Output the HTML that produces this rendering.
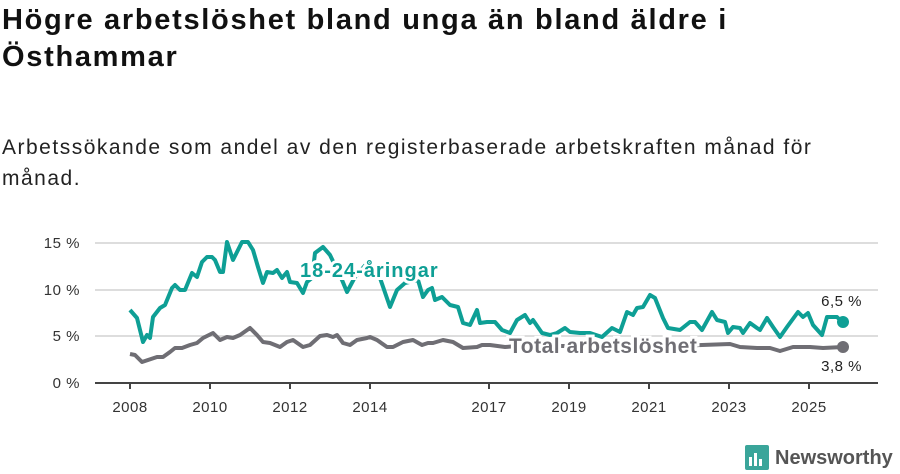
<!DOCTYPE html>
<html><head><meta charset="utf-8"><style>
body{margin:0;background:#fff;width:900px;height:474px;overflow:hidden;font-family:"Liberation Sans",sans-serif;}
h1{position:absolute;left:2px;top:2px;margin:0;font-size:29px;line-height:37px;font-weight:bold;color:#111;letter-spacing:1.7px;}
.sub{position:absolute;left:2px;top:132px;font-size:21px;line-height:31px;color:#222;letter-spacing:1.5px;}
</style></head><body>
<h1>Högre arbetslöshet bland unga än bland äldre i<br>Östhammar</h1>
<div class="sub">Arbetssökande som andel av den registerbaserade arbetskraften månad för<br>månad.</div>
<svg width="900" height="474" style="position:absolute;left:0;top:0" font-family="Liberation Sans, sans-serif">
<g stroke="#ddd" stroke-width="2">
<line x1="95" y1="243" x2="878" y2="243"/><line x1="95" y1="290" x2="878" y2="290"/><line x1="95" y1="336" x2="878" y2="336"/>
</g>
<line x1="95" y1="383" x2="878" y2="383" stroke="#444" stroke-width="2"/>
<g stroke="#444" stroke-width="2">
<line x1="130" y1="383" x2="130" y2="389"/><line x1="210" y1="383" x2="210" y2="389"/><line x1="290" y1="383" x2="290" y2="389"/><line x1="370" y1="383" x2="370" y2="389"/><line x1="489" y1="383" x2="489" y2="389"/><line x1="569" y1="383" x2="569" y2="389"/><line x1="649" y1="383" x2="649" y2="389"/><line x1="729" y1="383" x2="729" y2="389"/><line x1="809" y1="383" x2="809" y2="389"/>
</g>
<g font-size="15" fill="#333" text-anchor="end" letter-spacing="0.5">
<text x="80" y="248">15 %</text><text x="80" y="295">10 %</text><text x="80" y="341">5 %</text><text x="80" y="388">0 %</text>
</g>
<g font-size="15" fill="#333" text-anchor="middle" letter-spacing="0.5">
<text x="130" y="412">2008</text><text x="210" y="412">2010</text><text x="290" y="412">2012</text><text x="370" y="412">2014</text><text x="489" y="412">2017</text><text x="569" y="412">2019</text><text x="649" y="412">2021</text><text x="729" y="412">2023</text><text x="809" y="412">2025</text>
</g>
<polyline fill="none" stroke="#6f6e74" stroke-width="4" stroke-linejoin="round" points="130,354 135,355 142,362 148,360 157,357 163,357 170,352 175,348 182,348 190,345 197,343 203,338 213,333 220,340 227,337 233,338 240,335 250,328 257,335 263,342 270,343 280,347 287,342 293,340 303,347 310,345 320,336 327,335 333,337 337,335 343,343 350,345 357,340 367,338 370,337 377,340 387,347 393,347 403,342 413,340 422,345 428,343 433,343 443,340 453,342 463,348 477,347 482,345 490,345 505,347 520,346 560,346 600,346 640,345 680,346 702,345 730,344 740,347 757,348 770,348 780,351 793,347 810,347 823,348 843,347"/>
<polyline fill="none" stroke="#0e9f95" stroke-width="4" stroke-linejoin="round" points="130,310 137,318 143,342 147,335 150,338 153,317 160,308 165,305 172,288 175,285 180,290 185,290 192,273 197,277 202,262 207,257 212,257 215,260 220,272 223,272 227,242 233,260 242,242 248,242 253,250 258,267 263,283 267,272 273,273 277,270 282,278 287,272 290,282 297,283 303,293 307,282 312,278 315,253 323,247 330,255 342,280 347,292 355,277 368,262 380,278 390,307 397,290 405,283 418,280 423,297 428,290 432,288 435,300 442,297 450,305 458,307 463,323 470,325 477,310 480,323 487,322 495,322 502,330 510,333 517,320 525,315 530,323 533,320 542,333 550,335 557,333 565,328 570,332 580,333 590,333 602,337 612,328 620,332 627,312 633,315 637,308 643,307 650,295 655,298 663,318 668,328 680,330 690,322 695,322 702,330 712,312 717,320 725,322 728,333 733,327 740,328 743,333 750,323 757,328 760,330 767,318 773,327 780,337 787,327 798,312 803,317 808,313 813,325 822,335 827,317 837,317 843,323"/>
<circle cx="843" cy="322" r="6" fill="#0e9f95"/><circle cx="843" cy="347" r="6" fill="#6f6e74"/>
<text x="300" y="277" font-size="20" font-weight="bold" fill="#0e9f95" stroke="#fff" stroke-width="6" paint-order="stroke" letter-spacing="1">18-24-åringar</text>
<text x="509" y="353" font-size="21" font-weight="bold" fill="#6f6e74" stroke="#fff" stroke-width="6" paint-order="stroke" letter-spacing="0.5">Total arbetslöshet</text>
<text x="862" y="306" font-size="15" fill="#222" text-anchor="end" letter-spacing="0.5">6,5 %</text>
<text x="862" y="371" font-size="15" fill="#222" text-anchor="end" letter-spacing="0.5">3,8 %</text>
<g transform="translate(745,445)">
<rect x="0" y="0" width="24" height="25" rx="2" fill="#3aa59a"/>
<rect x="4" y="12" width="3" height="9" fill="#fff"/><rect x="9" y="8" width="3" height="13" fill="#fff"/><rect x="14" y="14" width="3" height="7" fill="#fff"/>
</g>
<text x="775" y="464" font-size="20" font-weight="bold" fill="#555">Newsworthy</text>
</svg>
</body></html>
